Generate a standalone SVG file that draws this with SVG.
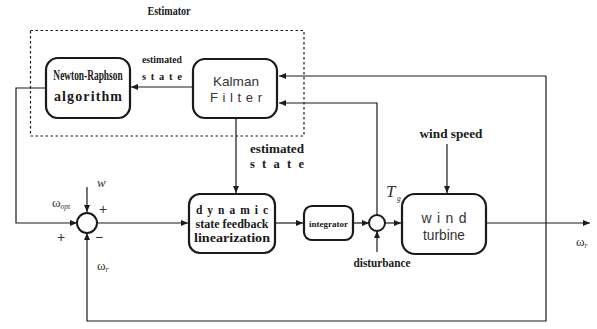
<svg xmlns="http://www.w3.org/2000/svg" width="597" height="329" viewBox="0 0 597 329">
<defs>
<marker id="ah" markerWidth="8" markerHeight="6" refX="7" refY="3" orient="auto" markerUnits="userSpaceOnUse">
<path d="M0,0 L7,3 L0,6 Z" fill="#1a1a1a"/>
</marker>
<style>
.box{fill:#fff;stroke:#1a1a1a;stroke-width:2.2}
.ln{fill:none;stroke:#1a1a1a;stroke-width:1.2}
.sum{fill:#fff;stroke:#1a1a1a;stroke-width:2}
.bs{font-family:"Liberation Serif",serif;font-weight:bold;fill:#1a1a1a}
.ss{font-family:"Liberation Sans",sans-serif;fill:#333}
.it{font-family:"Liberation Serif",serif;font-style:italic;fill:#333}
.sym{font-family:"Liberation Serif",serif;fill:#333}
</style>
</defs>
<rect width="597" height="329" fill="#fff"/>
<g id="estimator">
<rect x="30.5" y="30.5" width="273.5" height="105.5" fill="none" stroke="#1a1a1a" stroke-width="1.2" stroke-dasharray="2.5,2.5"/>
<text class="bs" x="169" y="15" font-size="12" text-anchor="middle" textLength="43" lengthAdjust="spacingAndGlyphs">Estimator</text>
</g>
<g id="connectors">
<path class="ln" d="M192,87 H131" marker-end="url(#ah)"/>
<path class="ln" d="M46,88 H16 V223 H77" marker-end="url(#ah)"/>
<path class="ln" d="M87,187 V212" marker-end="url(#ah)"/>
<path class="ln" d="M546,76 V321 H87 V233" marker-end="url(#ah)"/>
<path class="ln" d="M546,76 H279" marker-end="url(#ah)"/>
<path class="ln" d="M97,223 H188" marker-end="url(#ah)"/>
<path class="ln" d="M236,118 V193" marker-end="url(#ah)"/>
<path class="ln" d="M276,223 H303" marker-end="url(#ah)"/>
<path class="ln" d="M354,223 H369" marker-end="url(#ah)"/>
<path class="ln" d="M377,215 V103 H279" marker-end="url(#ah)"/>
<path class="ln" d="M377,252 V231" marker-end="url(#ah)"/>
<path class="ln" d="M385,223 H401" marker-end="url(#ah)"/>
<path class="ln" d="M447,144 V193" marker-end="url(#ah)"/>
<path class="ln" d="M487,223 H590" marker-end="url(#ah)"/>
</g>
<g id="newton-raphson">
<rect class="box" x="46" y="58" width="84" height="60" rx="12"/>
<text class="bs" transform="translate(88,80) scale(0.67,1)" x="0" y="0" font-size="14" text-anchor="middle">Newton-Raphson</text>
<text class="bs" x="88" y="101" font-size="14" text-anchor="middle" textLength="68" lengthAdjust="spacing">algorithm</text>
</g>
<g id="kalman-filter">
<rect class="box" x="193" y="59" width="84" height="59" rx="12"/>
<text class="ss" x="236" y="86" font-size="13" text-anchor="middle" textLength="46" lengthAdjust="spacingAndGlyphs">Kalman</text>
<text class="ss" x="236" y="102" font-size="13" text-anchor="middle" textLength="52" lengthAdjust="spacing">Filter</text>
</g>
<g id="label-estimated-1">
<text class="bs" x="162" y="63" font-size="10.5" text-anchor="middle" textLength="40" lengthAdjust="spacingAndGlyphs">estimated</text>
<text class="bs" x="162" y="79.5" font-size="10.5" text-anchor="middle" textLength="40" lengthAdjust="spacing">state</text>
</g>
<g id="label-estimated-2">
<text class="bs" x="277" y="153" font-size="12.5" text-anchor="middle" textLength="54" lengthAdjust="spacingAndGlyphs">estimated</text>
<text class="bs" x="277" y="168" font-size="12.5" text-anchor="middle" textLength="54" lengthAdjust="spacing">state</text>
</g>
<g id="sum1">
<circle class="sum" cx="87" cy="223" r="10"/>
<text class="it" x="97" y="187" font-size="13">w</text>
<text class="sym" x="52" y="207" font-size="13">ω<tspan font-size="7.5" font-style="italic" dy="2">opt</tspan></text>
<text class="ss" x="103" y="214" font-size="14" text-anchor="middle" font-weight="300">+</text>
<text class="ss" x="61" y="242" font-size="14" text-anchor="middle" font-weight="300">+</text>
<text class="ss" x="99" y="242" font-size="14" text-anchor="middle">−</text>
<text class="sym" x="97" y="270" font-size="13">ω<tspan font-size="7.5" font-style="italic" dy="2">r</tspan></text>
</g>
<g id="dynamic-sfl">
<rect class="box" x="189" y="194" width="86" height="59" rx="11"/>
<text class="bs" x="232" y="214" font-size="11.5" text-anchor="middle" textLength="72" lengthAdjust="spacing">dynamic</text>
<text class="bs" x="232" y="228" font-size="11.5" text-anchor="middle" textLength="73" lengthAdjust="spacingAndGlyphs">state feedback</text>
<text class="bs" x="232" y="242" font-size="11.5" text-anchor="middle" textLength="76" lengthAdjust="spacingAndGlyphs">linearization</text>
</g>
<g id="integrator">
<rect class="box" x="304" y="206" width="49" height="34" rx="8"/>
<text class="bs" x="328.5" y="226.5" font-size="8.5" text-anchor="middle" textLength="39" lengthAdjust="spacingAndGlyphs">integrator</text>
</g>
<g id="sum2">
<circle class="sum" cx="377" cy="223" r="8"/>
<text class="it" x="386" y="197" font-size="17">T</text>
<text class="it" x="397" y="201" font-size="7.5">g</text>
<text class="bs" x="382" y="267" font-size="12" text-anchor="middle" textLength="57" lengthAdjust="spacingAndGlyphs">disturbance</text>
</g>
<g id="wind-speed">
<text class="bs" x="451" y="138" font-size="12.5" text-anchor="middle" textLength="63" lengthAdjust="spacingAndGlyphs">wind speed</text>
</g>
<g id="wind-turbine">
<rect class="box" x="402" y="194" width="84" height="60" rx="13"/>
<text class="ss" x="444" y="223" font-size="14" text-anchor="middle" textLength="45" lengthAdjust="spacing">wind</text>
<text class="ss" x="444" y="240" font-size="14" text-anchor="middle" textLength="42" lengthAdjust="spacingAndGlyphs">turbine</text>
</g>
<g id="output">
<text class="sym" x="576" y="246" font-size="13">ω<tspan font-size="7.5" font-style="italic" dy="2">r</tspan></text>
</g>
</svg>
